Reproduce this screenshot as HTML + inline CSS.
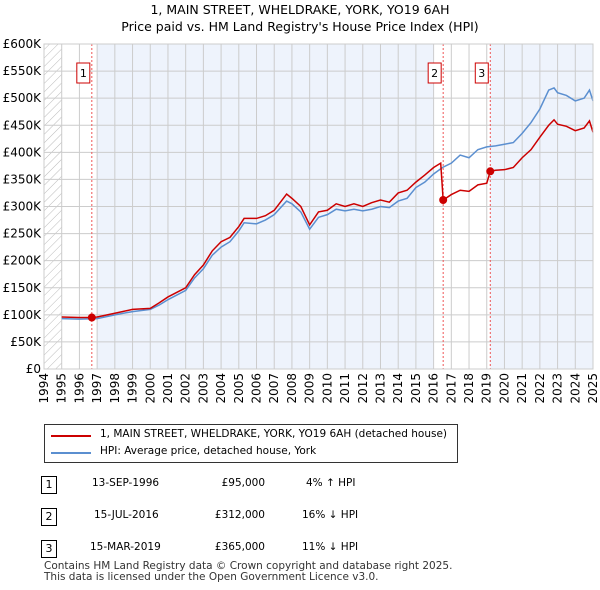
<!DOCTYPE html>
<html><head><meta charset="utf-8"><style>
body{margin:0;background:#fff;font-family:"DejaVu Sans","Liberation Sans",sans-serif;}
#wrap{position:relative;width:600px;height:590px;overflow:hidden}
.t{position:absolute;font-size:12px;color:#000;white-space:nowrap}
.nb{position:absolute;width:14px;height:16px;border:1px solid #000;font-size:11px;text-align:center;line-height:16px}
</style></head><body><div id="wrap">
<div class="t" style="left:0;width:600px;text-align:center;top:2px;font-size:12.5px">1, MAIN STREET, WHELDRAKE, YORK, YO19 6AH</div>
<div class="t" style="left:0;width:600px;text-align:center;top:19px;font-size:12.5px">Price paid vs. HM Land Registry's House Price Index (HPI)</div>
<svg id="c" width="600" height="420" style="position:absolute;left:0;top:0"></svg>
<div style="position:absolute;left:44px;top:424px;width:412px;height:37px;border:1px solid #333">
<div style="position:absolute;left:6px;top:10px;width:40px;height:2px;background:#cc0000"></div>
<div class="t" style="left:55px;top:3px;font-size:10.5px">1, MAIN STREET, WHELDRAKE, YORK, YO19 6AH (detached house)</div>
<div style="position:absolute;left:6px;top:27px;width:40px;height:2px;background:#5b8fd0"></div>
<div class="t" style="left:55px;top:20px;font-size:10.5px">HPI: Average price, detached house, York</div>
</div>
<div class="nb" style="left:41px;top:476px">1</div>
<div class="t" style="left:92px;top:477px;font-size:10.5px">13-SEP-1996</div>
<div class="t" style="left:205px;top:477px;font-size:10.5px;width:60px;text-align:right">£95,000</div>
<div class="t" style="left:306px;top:477px;font-size:10.5px">4% ↑ HPI</div>
<div class="nb" style="left:41px;top:508px">2</div>
<div class="t" style="left:94px;top:509px;font-size:10.5px">15-JUL-2016</div>
<div class="t" style="left:205px;top:509px;font-size:10.5px;width:60px;text-align:right">£312,000</div>
<div class="t" style="left:302px;top:509px;font-size:10.5px">16% ↓ HPI</div>
<div class="nb" style="left:41px;top:540px">3</div>
<div class="t" style="left:90px;top:541px;font-size:10.5px">15-MAR-2019</div>
<div class="t" style="left:205px;top:541px;font-size:10.5px;width:60px;text-align:right">£365,000</div>
<div class="t" style="left:302px;top:541px;font-size:10.5px">11% ↓ HPI</div>
<div class="t" style="left:44px;top:561px;font-size:10.5px;color:#333;line-height:11px">Contains HM Land Registry data © Crown copyright and database right 2025.<br>This data is licensed under the Open Government Licence v3.0.</div>
</div>
<script>
const hpiX=[1995,1996,1997,1998,1999,2000,2000.5,2001,2002,2002.5,2003,2003.5,2004,2004.5,2005,2005.3,2006,2006.5,2007,2007.7,2008,2008.5,2009,2009.5,2010,2010.5,2011,2011.5,2012,2012.5,2013,2013.5,2014,2014.5,2015,2015.5,2016,2016.5,2017,2017.5,2018,2018.5,2019,2019.5,2020,2020.5,2021,2021.5,2022,2022.5,2022.8,2023,2023.5,2024,2024.5,2024.8,2025];
const hpiY=[93,92,93,100,106,110,118,128,145,168,185,210,225,235,255,270,268,275,285,310,305,290,258,280,285,295,292,295,292,295,300,298,310,315,335,345,360,372,380,395,390,405,410,412,415,418,435,455,480,515,519,510,505,495,500,515,495];
const redX=[1995,1996,1996.7,1997,1998,1999,2000,2000.5,2001,2002,2002.5,2003,2003.5,2004,2004.5,2005,2005.3,2006,2006.5,2007,2007.7,2008,2008.5,2009,2009.5,2010,2010.5,2011,2011.5,2012,2012.5,2013,2013.5,2014,2014.5,2015,2015.5,2016,2016.4,2016.54,2017,2017.5,2018,2018.5,2019,2019.2,2019.5,2020,2020.5,2021,2021.5,2022,2022.5,2022.8,2023,2023.5,2024,2024.5,2024.8,2025];
const redY=[96,95,95,96,103,110,112,122,133,150,174,192,218,235,243,263,278,278,283,293,323,315,300,266,290,293,305,300,305,300,307,312,308,325,330,345,358,372,380,312,322,330,328,340,343,365,367,368,372,390,405,428,450,460,452,448,440,445,458,437];
const saleX=[1996.7,2016.54,2019.2];
const saleY=[95,312,365];
const saleLabels=["1","2","3"];
const yTicks=[0,50,100,150,200,250,300,350,400,450,500,550,600];
const yTickLabels=["£0","£50K","£100K","£150K","£200K","£250K","£300K","£350K","£400K","£450K","£500K","£550K","£600K"];
const years=[];for(let y=1994;y<=2025;y++)years.push(y);
const X0=44,X1=593,Y0=369,Y1=44;
const sx=v=>X0+(v-1994)/(2025-1994)*(X1-X0);
const sy=v=>Y0-v/600*(Y0-Y1);
const svg=document.getElementById('c');const NS="http://www.w3.org/2000/svg";
function mk(t,a){const e=document.createElementNS(NS,t);for(const k in a)e.setAttribute(k,a[k]);svg.appendChild(e);return e;}
let r=mk('rect',{x:sx(1997),y:Y1,width:sx(2016.0)-sx(1997),height:Y0-Y1,fill:'#eef3fc'});

r=mk('rect',{x:sx(2019.2),y:Y1,width:X1-sx(2019.2),height:Y0-Y1,fill:'#eef3fc'});

const d=mk('defs',{});d.innerHTML='<pattern id="h" width="6" height="6" patternUnits="userSpaceOnUse" patternTransform="rotate(45)"><line x1="0" y1="0" x2="0" y2="6" stroke="#bbb" stroke-width="1"/></pattern>';
r=mk('rect',{x:X0,y:Y1,width:sx(1995)-X0,height:Y0-Y1,fill:'url(#h)'});

years.forEach(y=>{const l=mk('line',{x1:sx(y),x2:sx(y),y1:Y1,y2:Y0,stroke:'#ccc','stroke-width':1});

const t=mk('text',{x:0,y:0,'font-size':12,'text-anchor':'end',transform:`translate(${sx(y)+4},${Y0+4}) rotate(-90)`,fill:'#000','font-family':'DejaVu Sans'});
t.textContent=y;});
yTicks.forEach((v,i)=>{const l=mk('line',{x1:X0,x2:X1,y1:sy(v),y2:sy(v),stroke:'#ccc','stroke-width':1});

const t=mk('text',{x:X0-3,y:sy(v)+4,'font-size':12,'text-anchor':'end',fill:'#000','font-family':'DejaVu Sans'});
t.textContent=yTickLabels[i];});
saleX.forEach((x,i)=>{const l=mk('line',{x1:sx(x),x2:sx(x),y1:Y1,y2:Y0,stroke:'#e55','stroke-width':1,'stroke-dasharray':'2,2'});

const b=mk('rect',{x:sx(x)-15,y:63,width:13,height:20,fill:'#fff',stroke:'#cc0000'});

const t=mk('text',{x:sx(x)-8.5,y:77,'font-size':11,'text-anchor':'middle','font-family':'DejaVu Sans'});t.textContent=saleLabels[i];
});
let p=mk('polyline',{points:hpiX.map((x,i)=>sx(x)+','+sy(hpiY[i])).join(' '),fill:'none',stroke:'#5b8fd0','stroke-width':1.5});

p=mk('polyline',{points:redX.map((x,i)=>sx(x)+','+sy(redY[i])).join(' '),fill:'none',stroke:'#cc0000','stroke-width':1.5});

saleX.forEach((x,i)=>{const c=mk('circle',{cx:sx(x),cy:sy(saleY[i]),r:4,fill:'#cc0000'});
});
const ax=mk('rect',{x:X0,y:Y1,width:X1-X0,height:Y0-Y1,fill:'none',stroke:'#ccc'});

</script></body></html>
